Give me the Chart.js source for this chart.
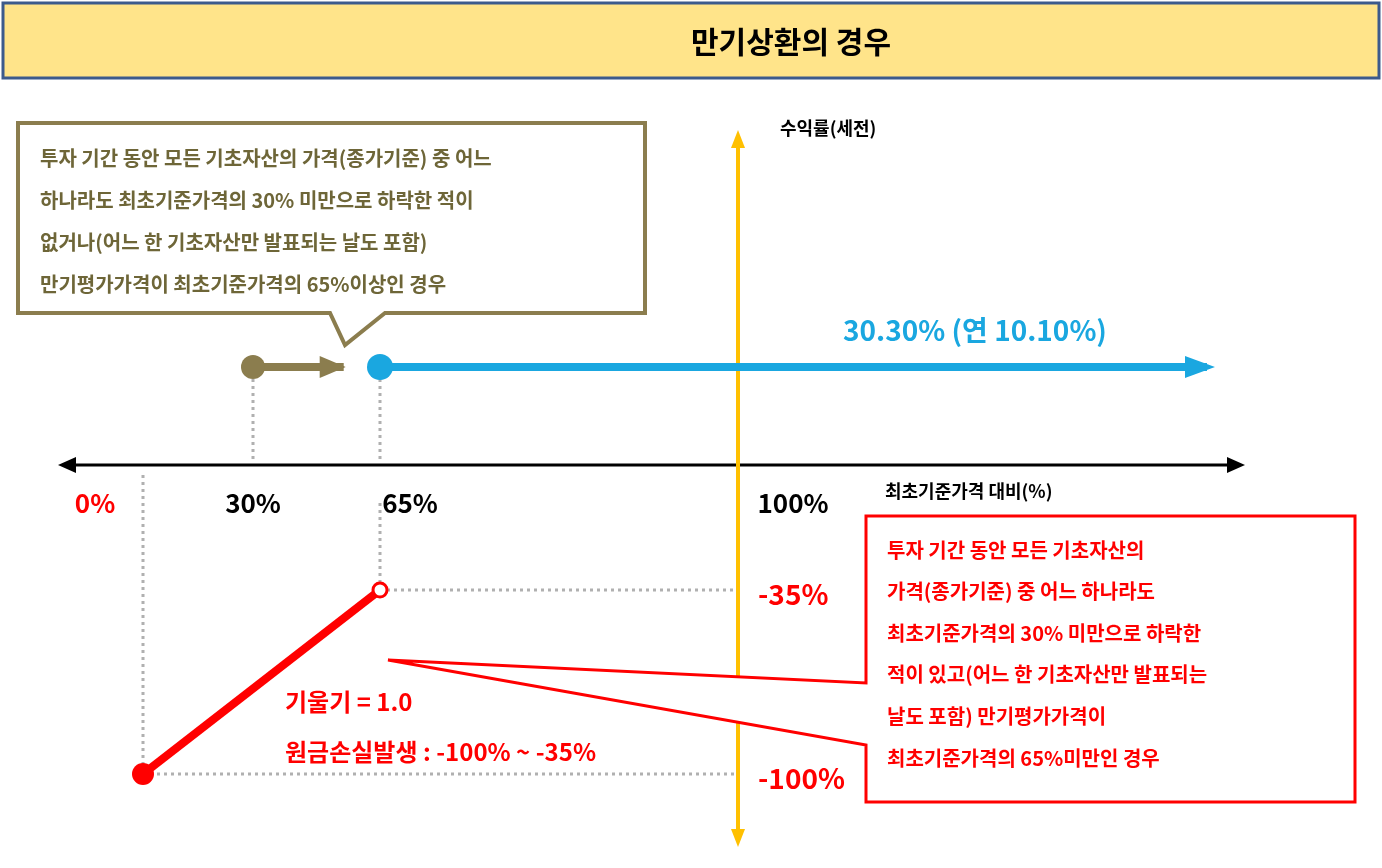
<!DOCTYPE html>
<html><head><meta charset="utf-8">
<script src="https://cdn.jsdelivr.net/npm/chart.js@4"></script>
<style>html,body{margin:0;padding:0;background:#fff}#wrap{width:1382px;height:868px}</style>
</head><body><div id="wrap"><canvas id="c"></canvas></div>
<script>
// data (x: % of initial price, y: return %)
const xTicks = [0, 30, 65, 100];
const xTickLabels = ["0%", "30%", "65%", "100%"];
const yTicks = [-35, -100];
const yTickLabels = ["-35%", "-100%"];
const lossX = [0, 65];
const lossY = [-100, -35];
const couponX = [65, 137];
const couponY = [30.3, 30.3];
const barrierX = [30, 55];
const barrierY = [30.3, 30.3];
const couponLabel = "30.30% (연 10.10%)";

// schematic axes are not to scale: piecewise linear scale
class BreakScale extends Chart.LinearScale {
  getPixelForValue(v) {
    const b = this.options.breaks.slice().sort((p, q) => p[0] - q[0]);
    let i = 0;
    while (i < b.length - 2 && v > b[i + 1][0]) i++;
    const [v0, f0] = b[i], [v1, f1] = b[i + 1];
    const f = f0 + (v - v0) * (f1 - f0) / (v1 - v0);
    return this.isHorizontal() ? this.left + f * this.width : this.top + f * this.height;
  }
}
BreakScale.id = 'breaks';
BreakScale.defaults = Chart.LinearScale.defaults;
Chart.register(BreakScale);

const F = '"Noto Sans CJK KR", "Noto Sans", sans-serif';
const RED = '#ff0000', BLUE = '#1aa7e0', OLIVE = '#8b7d4e', GRAY = '#b0b0b0';

function arrowHead(ctx, x, y, ang, len, w, col) {
  ctx.save(); ctx.translate(x, y); ctx.rotate(ang);
  ctx.beginPath(); ctx.moveTo(0, 0); ctx.lineTo(-len, -w); ctx.lineTo(-len, w); ctx.closePath();
  ctx.fillStyle = col; ctx.fill(); ctx.restore();
}
function txt(ctx, s, x, y, size, col, align = 'left', weight = 'bold') {
  ctx.font = weight + ' ' + size + 'px ' + F; ctx.fillStyle = col;
  ctx.textAlign = align; ctx.textBaseline = 'middle'; ctx.fillText(s, x, y);
}

const deco = {
  id: 'deco',
  beforeDatasetsDraw(chart) {
    const ctx = chart.ctx, xs = chart.scales.x, ys = chart.scales.y;
    const y0 = ys.getPixelForValue(0), x100 = xs.getPixelForValue(100);
    ctx.save();
    // title
    ctx.fillStyle = '#ffe48a'; ctx.fillRect(3, 3, 1376, 75);
    ctx.strokeStyle = '#3c5a8c'; ctx.lineWidth = 3; ctx.strokeRect(3, 3, 1376, 75);
    txt(ctx, '만기상환의 경우', 691, 42, 30, '#000');
    // x axis
    ctx.strokeStyle = '#000'; ctx.lineWidth = 3;
    ctx.beginPath(); ctx.moveTo(70, y0); ctx.lineTo(1232, y0); ctx.stroke();
    arrowHead(ctx, 1245, y0, 0, 18, 8, '#000');
    arrowHead(ctx, 58, y0, Math.PI, 18, 8, '#000');
    // y axis
    ctx.strokeStyle = '#ffc000'; ctx.lineWidth = 4;
    ctx.beginPath(); ctx.moveTo(x100, 145); ctx.lineTo(x100, 832); ctx.stroke();
    arrowHead(ctx, x100, 130, -Math.PI / 2, 18, 7, '#ffc000');
    arrowHead(ctx, x100, 847, Math.PI / 2, 18, 7, '#ffc000');
    // dotted guides
    ctx.strokeStyle = GRAY; ctx.lineWidth = 3; ctx.setLineDash([3, 4]);
    const seg = (a, b, c, d) => { ctx.beginPath(); ctx.moveTo(a, b); ctx.lineTo(c, d); ctx.stroke(); };
    const px = v => xs.getPixelForValue(v), py = v => ys.getPixelForValue(v);
    seg(px(0), y0 + 10, px(0), py(-100));
    seg(px(30), py(30.3) + 12, px(30), y0 - 6);
    seg(px(65), py(30.3) + 12, px(65), y0 - 6);
    seg(px(65), y0 + 38, px(65), py(-35));
    seg(px(65), py(-35), x100 - 4, py(-35));
    seg(px(0), py(-100), x100 - 4, py(-100));
    ctx.setLineDash([]);
    // arrowheads of the return lines
    arrowHead(ctx, px(barrierX[1]) + 2, py(30.3), 0, 26, 11, OLIVE);
    arrowHead(ctx, px(couponX[1]) + 8, py(30.3), 0, 30, 11, BLUE);
    ctx.restore();
  },
  afterDatasetsDraw(chart) {
    const ctx = chart.ctx, xs = chart.scales.x, ys = chart.scales.y;
    const y0 = ys.getPixelForValue(0);
    ctx.save();
    // tick labels
    const xCols = [RED, '#000', '#000', '#000'];
    const xOff = [-48, 0, 30, 55];
    xTicks.forEach((v, i) => txt(ctx, xTickLabels[i], xs.getPixelForValue(v) + xOff[i], y0 + 38, 26, xCols[i], 'center'));
    yTicks.forEach((v, i) => txt(ctx, yTickLabels[i], 758, ys.getPixelForValue(v) + 4, 28, RED, 'left', 'bold'));
    txt(ctx, '수익률(세전)', 780, 128, 18, '#000');
    txt(ctx, '최초기준가격 대비(%)', 885, 491, 18, '#000');
    txt(ctx, couponLabel, 843, 330, 28, BLUE);
    txt(ctx, '기울기 = 1.0', 285, 702, 24, RED);
    txt(ctx, '원금손실발생 : -100% ~ -35%', 285, 752, 24, RED);
    // olive callout
    ctx.beginPath();
    ctx.moveTo(18, 123); ctx.lineTo(645, 123); ctx.lineTo(645, 313); ctx.lineTo(385, 313);
    ctx.lineTo(345, 345); ctx.lineTo(330, 313); ctx.lineTo(18, 313); ctx.closePath();
    ctx.fillStyle = '#fff'; ctx.fill(); ctx.strokeStyle = OLIVE; ctx.lineWidth = 4; ctx.stroke();
    const ol = ['투자 기간 동안 모든 기초자산의 가격(종가기준) 중 어느',
      '하나라도 최초기준가격의 30% 미만으로 하락한 적이',
      '없거나(어느 한 기초자산만 발표되는 날도 포함)',
      '만기평가가격이 최초기준가격의 65%이상인 경우'];
    ol.forEach((s, i) => txt(ctx, s, 40, 158 + i * 42, 20, '#6e6638', 'left', 'bold'));
    // red callout
    ctx.beginPath();
    ctx.moveTo(866, 516); ctx.lineTo(1355, 516); ctx.lineTo(1355, 802); ctx.lineTo(866, 802);
    ctx.lineTo(866, 745); ctx.lineTo(388, 660); ctx.lineTo(866, 683); ctx.closePath();
    ctx.fillStyle = '#fff'; ctx.fill(); ctx.strokeStyle = RED; ctx.lineWidth = 3; ctx.stroke();
    const rl = ['투자 기간 동안 모든 기초자산의', '가격(종가기준) 중 어느 하나라도',
      '최초기준가격의 30% 미만으로 하락한', '적이 있고(어느 한 기초자산만 발표되는',
      '날도 포함) 만기평가가격이', '최초기준가격의 65%미만인 경우'];
    rl.forEach((s, i) => txt(ctx, s, 887, 550 + i * 41.6, 20, RED, 'left', 'bold'));
    ctx.restore();
  }
};

const pts = (xa, ya) => xa.map((x, i) => ({ x, y: ya[i] }));

new Chart(document.getElementById('c'), {
  type: 'scatter',
  data: {
    datasets: [
      { data: pts(lossX, lossY), showLine: true, borderColor: RED, borderWidth: 8,
        pointRadius: [11, 7], pointBackgroundColor: [RED, '#fff'], pointBorderColor: RED, pointBorderWidth: [0, 3] },
      { data: pts(couponX, couponY), showLine: true, borderColor: BLUE, borderWidth: 8,
        pointRadius: [13, 0], pointBackgroundColor: BLUE, pointBorderWidth: 0 },
      { data: pts(barrierX, barrierY), showLine: true, borderColor: OLIVE, borderWidth: 8,
        pointRadius: [12, 0], pointBackgroundColor: OLIVE, pointBorderWidth: 0 }
    ]
  },
  options: {
    responsive: true, maintainAspectRatio: false, animation: false,
    layout: { padding: 0, autoPadding: false },
    plugins: { legend: { display: false }, tooltip: { enabled: false } },
    scales: {
      x: { type: 'breaks', display: false, min: -30, max: 150,
        breaks: [[0, 143 / 1382], [30, 253 / 1382], [65, 380 / 1382], [100, 738 / 1382], [140, 1245 / 1382]] },
      y: { type: 'breaks', display: false, min: -130, max: 110,
        breaks: [[30.3, 367 / 868], [0, 465 / 868], [-35, 590 / 868], [-100, 774 / 868]] }
    }
  },
  plugins: [deco]
});
</script></body></html>
